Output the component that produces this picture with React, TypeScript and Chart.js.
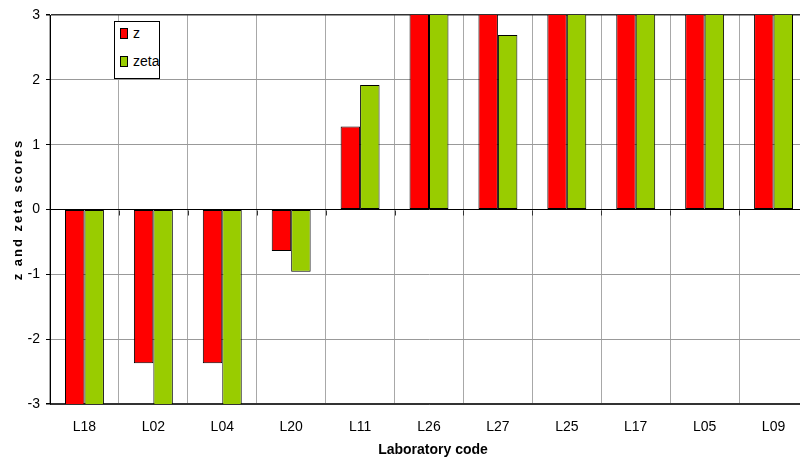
import React, { useEffect, useRef } from "react";
import { Chart, registerables } from "chart.js";

Chart.register(...registerables);

const labels = ["L18", "L02", "L04", "L20", "L11", "L26", "L27", "L25", "L17", "L05", "L09"];
const zScores = [-3.5, -2.37, -2.37, -0.64, 1.28, 3.5, 3.5, 3.5, 3.5, 3.5, 3.5];
const zetaScores = [-3.5, -3.5, -3.5, -0.96, 1.92, 3.5, 2.69, 3.5, 3.5, 3.5, 3.5];
const yTicks = [-3, -2, -1, 0, 1, 2, 3];
const seriesNames = ["z", "zeta"];
const seriesColors = ["#FF0000", "#99CC00"];

const FONT = "'Liberation Sans', Arial, sans-serif";

const titlesPlugin = {
  id: "titles",
  afterDraw(chart: any) {
    const { ctx, chartArea } = chart;
    ctx.save();
    ctx.fillStyle = "#000";
    ctx.font = `bold 14px ${FONT}`;
    ctx.textAlign = "center";
    ctx.textBaseline = "middle";
    ctx.fillText("Laboratory code", (chartArea.left + chartArea.right) / 2 + 4, 450);
    ctx.restore();

    ctx.save();
    ctx.translate(18, (chartArea.top + chartArea.bottom) / 2);
    ctx.rotate(-Math.PI / 2);
    ctx.fillStyle = "#000";
    ctx.font = `bold 13px ${FONT}`;
    try { (ctx as any).letterSpacing = "2px"; } catch (e) {}
    ctx.textAlign = "center";
    ctx.textBaseline = "middle";
    ctx.fillText("z and zeta scores", 0, 0);
    ctx.restore();
  },
};

const zeroTicksPlugin = {
  id: "zeroTicks",
  afterDatasetsDraw(chart: any) {
    const { ctx } = chart;
    const x = chart.scales.x;
    const y = chart.scales.y;
    const y0 = Math.round(y.getPixelForValue(0)) + 0.5;
    const n = labels.length;
    ctx.save();
    ctx.strokeStyle = "#333";
    ctx.lineWidth = 1;
    ctx.beginPath();
    for (let i = 1; i < n; i++) {
      const px = Math.round(x.left + (i * x.width) / n) + 0.5;
      ctx.moveTo(px, y0);
      ctx.lineTo(px, y0 + 5);
    }
    ctx.stroke();
    ctx.restore();
  },
};

export default function App() {
  const ref = useRef<HTMLCanvasElement>(null);
  useEffect(() => {
    if (!ref.current) return;
    const chart = new Chart(ref.current, {
      type: "bar",
      data: {
        labels,
        datasets: [
          {
            label: seriesNames[0],
            data: zScores,
            backgroundColor: seriesColors[0],
            borderColor: "#000",
            borderWidth: 1,
            borderSkipped: false,
            categoryPercentage: 0.565,
            barPercentage: 1,
          },
          {
            label: seriesNames[1],
            data: zetaScores,
            backgroundColor: seriesColors[1],
            borderColor: "#000",
            borderWidth: 1,
            borderSkipped: false,
            categoryPercentage: 0.565,
            barPercentage: 1,
          },
        ],
      },
      options: {
        responsive: false,
        animation: false,
        layout: { padding: { top: 15, right: 2, left: 0, bottom: 0 } },
        plugins: { legend: { display: false }, tooltip: { enabled: false }, title: { display: false } },
        scales: {
          x: {
            offset: true,
            grid: { color: "#a8a8a8", offset: true, drawTicks: false },
            border: { color: "#333", width: 1 },
            ticks: { color: "#000", font: { family: FONT, size: 14 }, padding: 15, maxRotation: 0 },
            afterFit: (s: any) => { s.height = 66; },
          },
          y: {
            min: -3,
            max: 3,
            afterBuildTicks: (s: any) => { s.ticks = yTicks.map((v) => ({ value: v })); },
            grid: {
              color: (c: any) => (c.tick && c.tick.value === 0 ? "#000" : c.tick && Math.abs(c.tick.value) === 3 ? "#333" : "#999"),
              tickLength: 4,
              tickColor: "#000",
              lineWidth: (c: any) => (c.tick && Math.abs(c.tick.value) === 3 ? 1.5 : 1),
            },
            border: { color: "#000", width: 1 },
            ticks: { color: "#000", font: { family: FONT, size: 14 }, padding: 6 },
            afterFit: (s: any) => { s.width = 50; },
          },
        },
      },
      plugins: [titlesPlugin, zeroTicksPlugin],
    });
    return () => chart.destroy();
  }, []);

  const legendItem = (i: number, top: number) => (
    <div style={{ position: "absolute", left: 5, top, display: "flex", alignItems: "center" }}>
      <div style={{ width: 6, height: 9, background: seriesColors[i], border: "1px solid #000", marginRight: 5 }} />
      <span style={{ font: `14px ${FONT}`, color: "#000", lineHeight: "16px" }}>{seriesNames[i]}</span>
    </div>
  );

  return (
    <div style={{ position: "fixed", left: 0, top: 0, width: 800, height: 470, overflow: "hidden", background: "#fff" }}>
      <canvas ref={ref} width={810} height={470} style={{ display: "block", width: 810, height: 470 }} />
      <div
        style={{
          position: "absolute",
          left: 114,
          top: 21,
          width: 44,
          height: 56,
          background: "#fff",
          border: "1px solid #000",
        }}
      >
        {legendItem(0, 3)}
        {legendItem(1, 31)}
      </div>
    </div>
  );
}
